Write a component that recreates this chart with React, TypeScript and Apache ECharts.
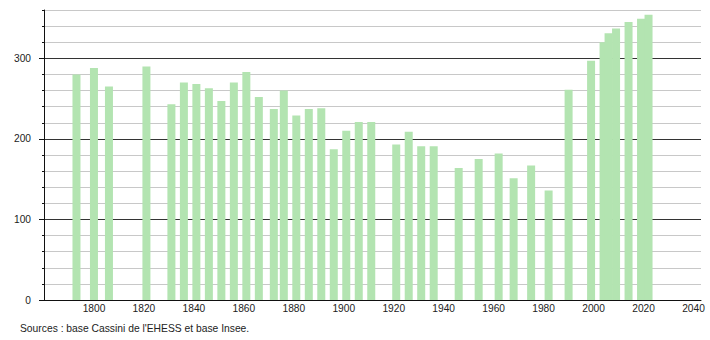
import React, { useEffect, useRef } from "react";
import * as echarts from "echarts";

const years = [
  1793, 1800, 1806, 1821, 1831, 1836, 1841, 1846, 1851, 1856, 1861, 1866, 1872, 1876,
  1881, 1886, 1891, 1896, 1901, 1906, 1911, 1921, 1926, 1931, 1936, 1946, 1954, 1962,
  1968, 1975, 1982, 1990, 1999, 2004, 2006, 2009, 2014, 2019, 2022,
];
const population = [
  280, 288, 265, 290, 243, 270, 268, 263, 247, 270, 283, 252, 237, 260,
  229, 237, 238, 187, 210, 221, 221, 193, 209, 191, 191, 164, 175, 182,
  151, 167, 136, 261, 297, 320, 331, 337, 345, 349, 354,
];
const xLabels = [1800, 1820, 1840, 1860, 1880, 1900, 1920, 1940, 1960, 1980, 2000, 2020, 2040];
const yLabels = [0, 100, 200, 300];
const sourceText = "Sources : base Cassini de l'EHESS et base Insee.";

export default function App() {
  const ref = useRef<HTMLDivElement>(null);
  useEffect(() => {
    if (!ref.current) return;
    document.body.style.margin = "0";
    document.body.style.overflow = "hidden";
    const chart = echarts.init(ref.current, null, { renderer: "svg" });
    const font = "'Liberation Sans', Arial, sans-serif";
    chart.setOption({
      animation: false,
      grid: { left: 44, right: 9, top: 10, bottom: 40, containLabel: false },
      xAxis: {
        type: "value",
        min: 1780,
        max: 2043,
        interval: 20,
        axisLine: { show: true, lineStyle: { color: "#111", width: 1 } },
        axisTick: { show: false },
        splitLine: { show: false },
        axisLabel: {
          margin: 3,
          fontSize: 10.2,
          fontFamily: font,
          color: "#222",
          hideOverlap: false,
          customValues: xLabels,
          formatter: (v: number) => String(v),
        },
      },
      yAxis: [
        {
          type: "value",
          min: 0,
          max: 360,
          interval: 20,
          axisLine: { show: true, lineStyle: { color: "#111", width: 1 } },
          axisTick: { show: true, length: 2, lineStyle: { color: "#111" } },
          axisLabel: { show: false },
          splitLine: {
            show: true,
            lineStyle: {
              color: ["#333", "#c8c8c8", "#c8c8c8", "#c8c8c8", "#c8c8c8"],
              width: 1,
            },
          },
        },
        {
          type: "value",
          min: 0,
          max: 360,
          interval: 20,
          position: "left",
          axisLine: { show: false },
          axisTick: { show: true, length: 5, customValues: yLabels, lineStyle: { color: "#111" } },
          axisLabel: {
            margin: 13,
            fontSize: 10.2,
            fontFamily: font,
            color: "#222",
            customValues: yLabels,
          },
          splitLine: { show: false },
        },
      ],
      graphic: [
        {
          type: "text",
          left: 20,
          top: 323,
          style: { text: sourceText, fontSize: 10.3, fontFamily: font, fill: "#222" },
        },
      ],
      series: [
        {
          type: "bar",
          barWidth: 8,
          itemStyle: { color: "#b3e4b1" },
          data: years.map((y, i) => [y, population[i]]),
        },
      ],
    });
    return () => chart.dispose();
  }, []);
  return <div ref={ref} style={{ width: 710, height: 340 }} />;
}
